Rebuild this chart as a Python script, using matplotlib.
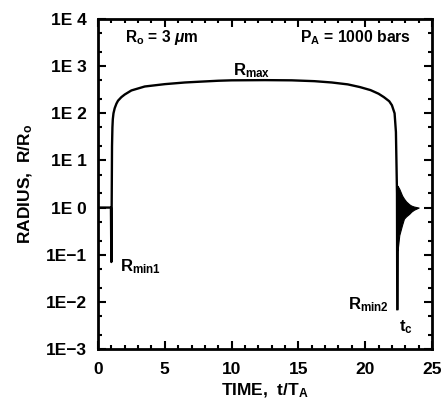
import matplotlib
matplotlib.use("Agg")
import matplotlib.pyplot as plt
from matplotlib.ticker import FixedLocator, NullFormatter

# bubble radius history
t_curve = [0, 0.97, 1.0, 1.03, 1.05, 1.08, 1.11, 1.16, 1.25, 1.38, 1.5, 1.75, 2.0, 2.5, 3.5,
           5, 6.5, 7.5, 9, 10, 12.5, 14.5, 16.2, 17.5, 18.7, 19.6, 20.4, 21.0, 21.4,
           21.8, 22.0, 22.2, 22.3, 22.38, 22.4]
r_curve = [1, 1, 0.07, 2, 20, 50, 75, 100, 128, 160, 185, 220, 250, 305, 370,
           415, 450, 466, 490, 500, 505, 500, 480, 450, 410, 360, 310, 260, 220,
           180, 148, 100, 40, 2, 0.007]

# after-bounce ringing, drawn as its envelope
t_ring = [22.4, 22.42, 22.55, 22.76, 22.9, 23.06, 23.3, 23.45, 23.65, 24.0]
ring_hi = [2.9, 2.9, 2.5, 1.8, 1.55, 1.35, 1.17, 1.1, 1.05, 1.0]
ring_lo = [0.007, 0.12, 0.26, 0.43, 0.58, 0.65, 0.74, 0.82, 0.9, 1.0]

x_ticks = [0, 5, 10, 15, 20, 25]
y_ticks = [1e-3, 1e-2, 1e-1, 1, 1e1, 1e2, 1e3, 1e4]
y_labels = ['1E\u22123', '1E\u22122', '1E\u22121', '1E 0', '1E 1', '1E 2', '1E 3', '1E 4']

plt.rcParams['font.family'] = ['Liberation Sans', 'DejaVu Sans']
plt.rcParams['font.weight'] = 'bold'
plt.rcParams['axes.labelweight'] = 'bold'
plt.rcParams['mathtext.fontset'] = 'custom'
plt.rcParams['mathtext.rm'] = 'Liberation Sans:bold'
plt.rcParams['mathtext.it'] = 'Liberation Sans:italic:bold'
plt.rcParams['mathtext.default'] = 'rm'

fig = plt.figure(figsize=(4.46, 4.12), dpi=100)
ax = fig.add_axes([0.2197, 0.1529, 0.7489, 0.8010])

ax.plot(t_curve, r_curve, color='black', lw=1.7, solid_joinstyle='round')
ax.fill_between(t_ring, ring_lo, ring_hi, color='black', lw=0.8, edgecolor='black')

ax.set_yscale('log')
ax.set_xlim(0, 25)
ax.set_ylim(1e-3, 1e4)

ax.set_xticks(x_ticks)
ax.xaxis.set_minor_locator(FixedLocator(range(0, 26)))
ax.set_yticks(y_ticks)
ax.set_yticklabels(y_labels)
minor_y = [m * 10.0 ** k for k in range(-3, 4) for m in (2, 5)]
ax.yaxis.set_minor_locator(FixedLocator(minor_y))
ax.yaxis.set_minor_formatter(NullFormatter())

ax.tick_params(which='both', direction='in', top=True, right=True, width=1.5)
ax.tick_params(which='major', length=6, labelsize=12.5)
ax.tick_params(which='minor', length=3)
ax.tick_params(axis='y', pad=8)
ax.tick_params(axis='x', pad=9)
for s in ax.spines.values():
    s.set_linewidth(2)

ax.set_xlabel('TIME,  t/T$_\\mathrm{A}$', fontsize=12.5, labelpad=4)
ax.set_ylabel('RADIUS,  R/R$_\\mathrm{o}$', fontsize=12.5, labelpad=8)

ax.text(0.081, 0.93, 'R$_\\mathrm{o}$ = 3 $\\mathit{\\mu}$m', transform=ax.transAxes, fontsize=11.2)
ax.text(0.605, 0.93, 'P$_\\mathrm{A}$ = 1000 bars', transform=ax.transAxes, fontsize=11.3)
ax.text(0.404, 0.830, 'R$_\\mathrm{max}$', transform=ax.transAxes, fontsize=12)
ax.text(0.066, 0.236, 'R$_\\mathrm{min1}$', transform=ax.transAxes, fontsize=12)
ax.text(0.749, 0.121, 'R$_\\mathrm{min2}$', transform=ax.transAxes, fontsize=12)
ax.text(0.901, 0.055, 't$_\\mathrm{c}$', transform=ax.transAxes, fontsize=12)

fig.savefig('out.png', dpi=100)
